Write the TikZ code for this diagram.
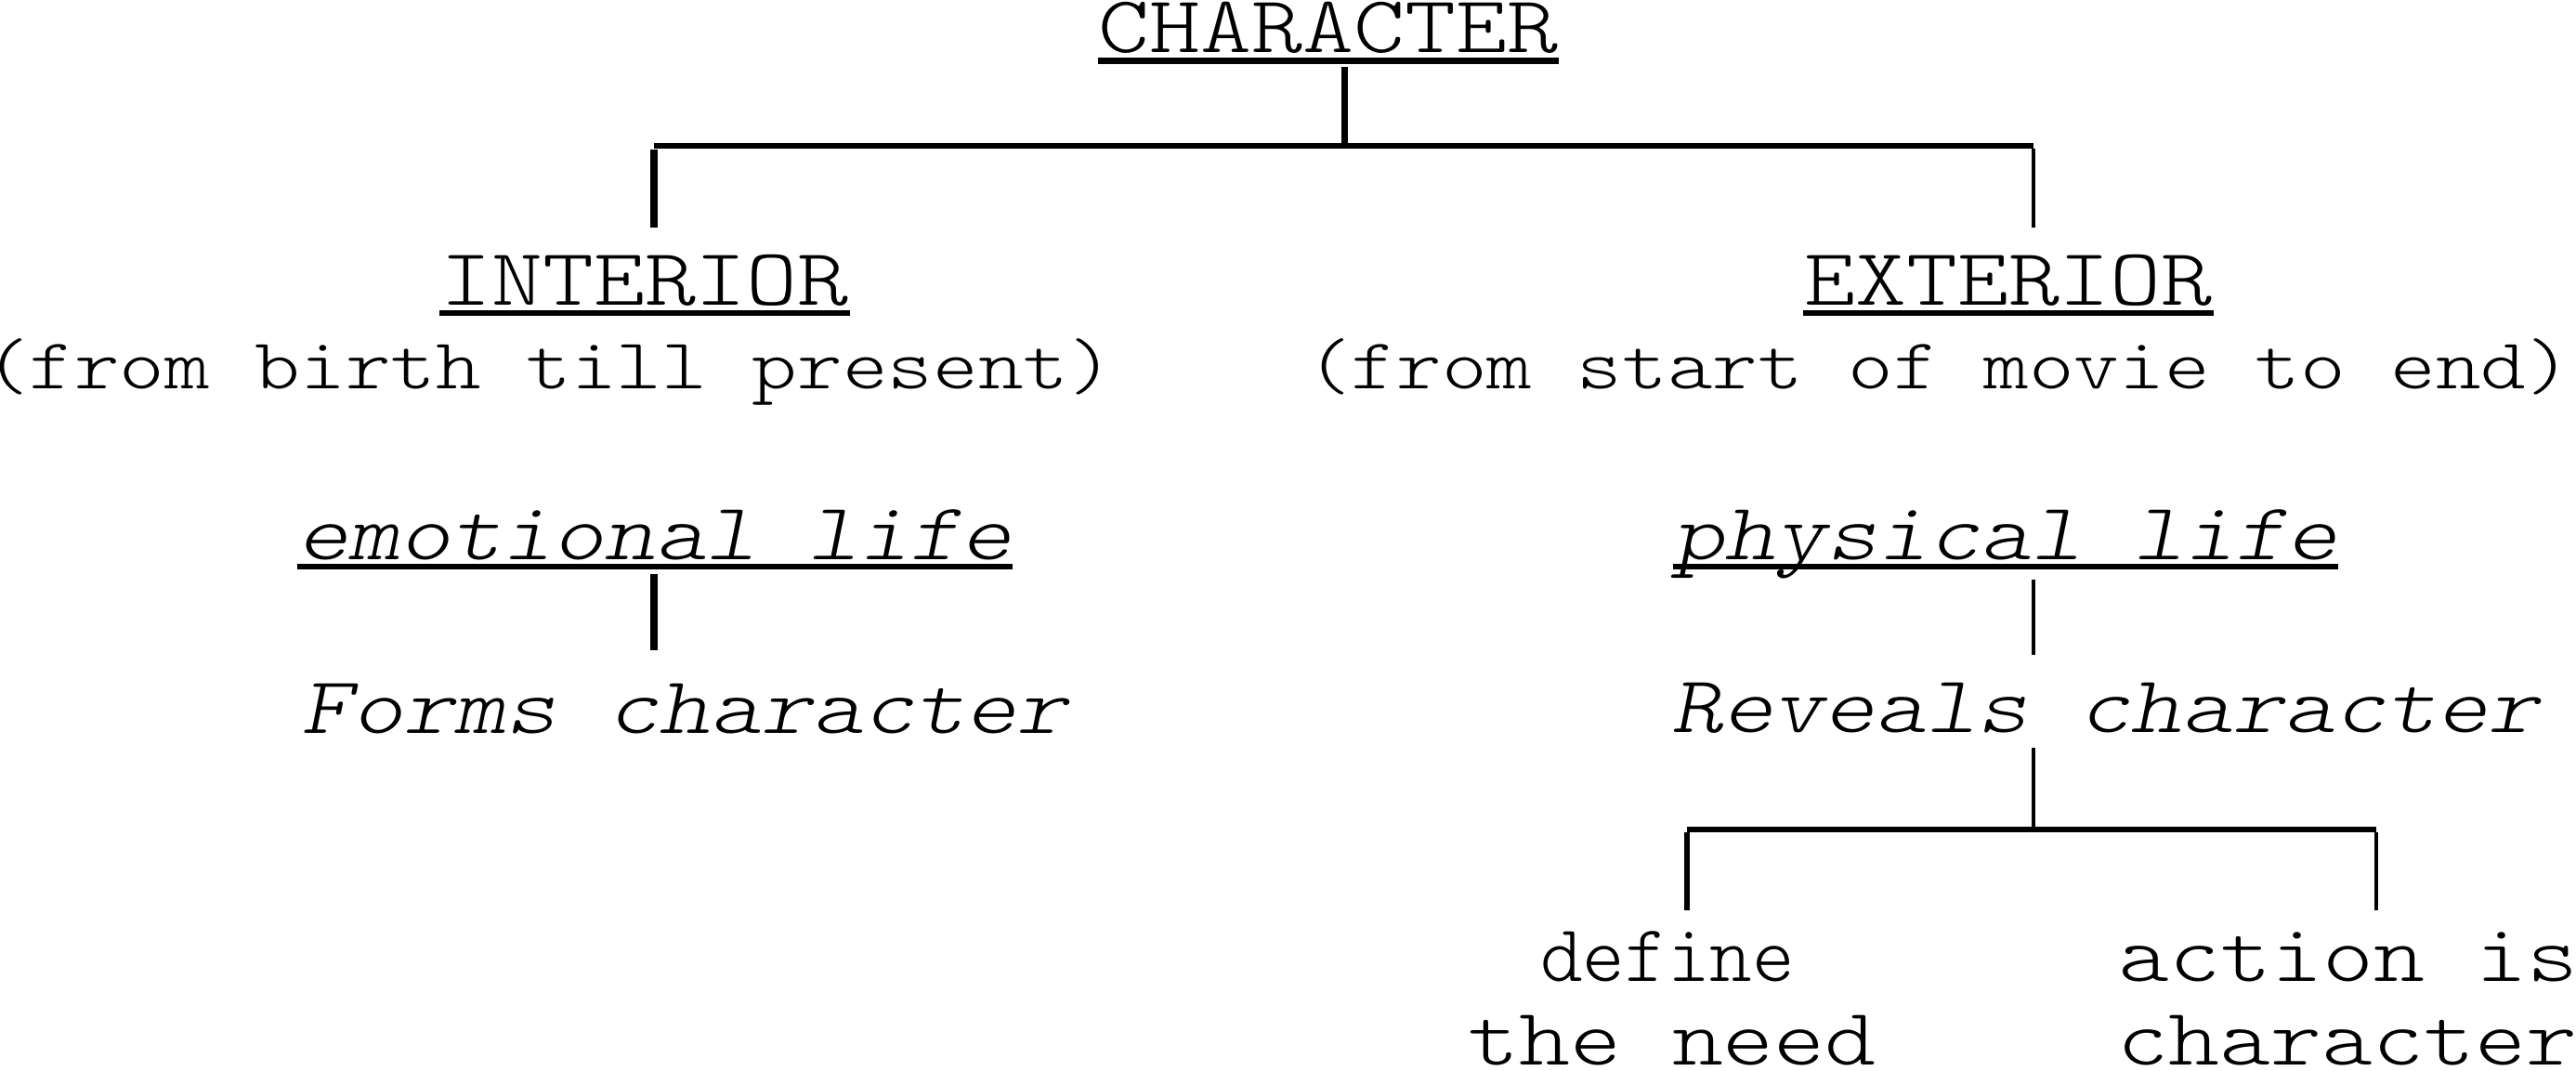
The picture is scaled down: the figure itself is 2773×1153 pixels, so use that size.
\documentclass[tikz,border=0pt]{standalone}
\usepackage{fontspec}
\newfontfamily\cmono{lmmonolt10-regular.otf}[FakeStretch=1.2]
\newfontfamily\cmonoit{lmmonolt10-oblique.otf}[FakeStretch=1.2]
\usetikzlibrary{calc}
\begin{document}
\begin{tikzpicture}[x=0.25pt,y=-0.25pt,
  bigtxt/.style={font=\cmono\fontsize{21.8}{26}\selectfont, inner sep=0pt, anchor=base},
  midtxt/.style={font=\cmono\fontsize{19.3}{23}\selectfont, inner sep=0pt, anchor=base},
  ittxt/.style={font=\cmonoit\fontsize{21.8}{26}\selectfont, inner sep=0pt, anchor=base},
  uline/.style={line width=1.6pt},
  conn/.style={line width=#1},
  conn/.default=1.5pt]
\useasboundingbox (0,0) rectangle (2773,1153);

% texts
\node[bigtxt] (char) at (1430,57) {CHARACTER};
\node[bigtxt] (inter) at (694,329) {INTERIOR};
\node[bigtxt] (exter) at (2162,329) {EXTERIOR};
\node[midtxt] (pin) at (591,419) {(from birth till present)};
\node[midtxt] (pex) at (2087,419) {(from start of movie to end)};
\node[ittxt] (emo) at (705,603) {emotional life};
\node[ittxt] (phy) at (2159,603) {physical life};
\node[ittxt] (forms) at (737,790) {Forms character};
\node[ittxt] (rev) at (2266,789) {Reveals character};
\node[bigtxt] (def) at (1795,1056) {\scalebox{0.83}[1]{define}};
\node[bigtxt] (need) at (1800,1146) {the need};
\node[bigtxt] (act) at (2528,1056) {action is};
\node[bigtxt] (chr) at (2527,1146) {character};

% underlines
\draw[line width=1.75pt] ($(char.base west)+(0,9)$) -- ($(char.base east)+(0,9)$);
\draw[uline] ($(inter.base west)+(0,8)$) -- ($(inter.base east)+(0,8)$);
\draw[uline] ($(exter.base west)+(0,8)$) -- ($(exter.base east)+(0,8)$);
\draw[uline] ($(emo.base west)+(0,7)$) -- ($(emo.base east)+(0,7)$);
\draw[uline] ($(phy.base west)+(0,7)$) -- ($(phy.base east)+(0,7)$);

% connector points
\coordinate (s1) at (1447,72);
\coordinate (j1) at (1447,157);
\coordinate (bl) at (704,157);
\coordinate (br) at (2189,157);
\coordinate (dlt) at (704,161);
\coordinate (dl) at (704,245);
\coordinate (drt) at (2189,160);
\coordinate (dr) at (2189,245);
\coordinate (e1) at (704,618);
\coordinate (e2) at (704,700);
\coordinate (p1) at (2189,624);
\coordinate (p2) at (2189,705);
\coordinate (r1) at (2189,805);
\coordinate (r2) at (2189,893);
\coordinate (ql) at (1816,893);
\coordinate (qr) at (2558,893);
\coordinate (qlt) at (1816,896);
\coordinate (qlb) at (1816,980);
\coordinate (qrt) at (2558,896);
\coordinate (qrb) at (2558,980);

% connectors
\draw[conn=1.75pt] (s1) -- (j1);
\draw[conn=1.5pt] (bl) -- (br);
\draw[conn=2pt] (dlt) -- (dl);
\draw[conn=1.2pt] (drt) -- (dr);
\draw[conn=2pt] (e1) -- (e2);
\draw[conn=1.1pt] (p1) -- (p2);
\draw[conn=1.1pt] (r1) -- (r2);
\draw[conn=1.6pt] (ql) -- (qr);
\draw[conn=1.4pt] (qlt) -- (qlb);
\draw[conn=1.2pt] (qrt) -- (qrb);
\end{tikzpicture}
\end{document}
